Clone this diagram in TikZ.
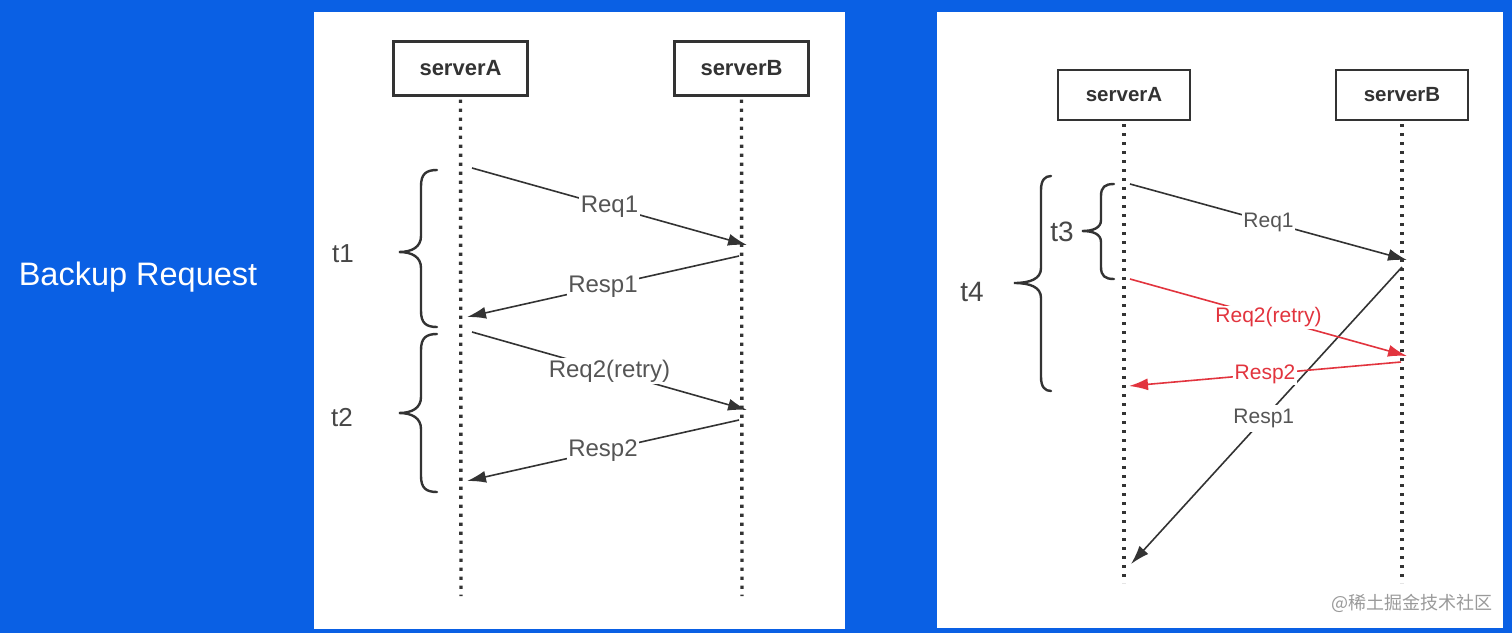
\documentclass[tikz,border=0pt]{standalone}
\usepackage{fontspec}
\setmainfont{Liberation Sans}
\newfontfamily\cjkfont{Noto Sans CJK SC}
\usetikzlibrary{arrows.meta}
\definecolor{bgblue}{HTML}{0A60E4}
\definecolor{ink}{HTML}{333333}
\definecolor{lbl}{HTML}{555555}
\definecolor{redl}{HTML}{E2343E}
\definecolor{wm}{HTML}{9A9A9A}
\begin{document}
\begin{tikzpicture}[x=1pt,y=-1pt,
  srvL/.style={draw=ink,line width=2.6pt,minimum width=134pt,minimum height=54pt,inner sep=0pt,outer sep=0pt,text=ink,font=\bfseries\fontsize{22}{26}\selectfont},
  srvR/.style={draw=ink,line width=2.4pt,minimum width=132pt,minimum height=50pt,inner sep=0pt,outer sep=0pt,text=ink,font=\bfseries\fontsize{20.5}{24}\selectfont},
  life/.style={draw=ink,line width=3.4pt,dash pattern=on 3.4pt off 5.6pt},
  msg/.style={draw=ink,line width=1.6pt,-{Latex[length=19pt,width=12pt]}},
  msgred/.style={draw=redl,line width=1.6pt,-{Latex[length=19pt,width=12pt]}},
  labL/.style={fill=white,inner sep=1.5pt,text=lbl,font=\fontsize{24}{28}\selectfont},
  labR/.style={fill=white,inner sep=1.5pt,text=lbl,font=\fontsize{21}{25}\selectfont},
  labred/.style={fill=white,inner sep=1.5pt,text=redl,font=\fontsize{21}{25}\selectfont},
  brc/.style={draw=ink,line width=2.4pt,line cap=round},
  tlab/.style={text=ink!90,font=\fontsize{26}{30}\selectfont}]
\useasboundingbox (0,0) rectangle (1512,633);
% backgrounds
\fill[bgblue] (0,0) rectangle (1512,633);
\fill[white] (314,12) rectangle (845,629);
\fill[white] (937,12) rectangle (1503,628);
\node[text=white,font=\fontsize{32.5}{38}\selectfont] (title) at (138,277) {Backup Request};

% ---------- left panel ----------
\node[srvL] (LA) at (460.5,68.5) {serverA};
\node[srvL] (LB) at (741.5,68.5) {serverB};
\coordinate (LAend) at (461,596);
\coordinate (LBend) at (742,596);
\draw[life] (LA.south) ++(0,4) coordinate (LAtop) -- (LAend);
\draw[life] (LB.south) ++(0,4) coordinate (LBtop) -- (LBend);

\coordinate (l1s) at (472,168);  \coordinate (l1e) at (747,245);
\coordinate (l2s) at (739,256);  \coordinate (l2e) at (467,317);
\coordinate (l3s) at (472,332);  \coordinate (l3e) at (747,410);
\coordinate (l4s) at (739,420);  \coordinate (l4e) at (467,481);
\draw[msg] (l1s) -- node[labL] (lReq1) {Req1} (l1e);
\draw[msg] (l2s) -- node[labL] (lResp1) {Resp1} (l2e);
\draw[msg] (l3s) -- node[labL] (lReq2) {Req2(retry)} (l3e);
\draw[msg] (l4s) -- node[labL] (lResp2) {Resp2} (l4e);

\draw[brc] (437,170) .. controls (426,170) and (421,174) .. (421,186) -- (421,236)
  .. controls (421,247) and (412,252) .. (399,252)
  .. controls (412,252) and (421,257) .. (421,268) -- (421,311)
  .. controls (421,323) and (426,327) .. (437,327);
\draw[brc] (437,334) .. controls (426,334) and (421,338) .. (421,350) -- (421,397)
  .. controls (421,408) and (412,413) .. (399,413)
  .. controls (412,413) and (421,418) .. (421,429) -- (421,476)
  .. controls (421,488) and (426,492) .. (437,492);
\node[tlab] (t1) at (343,254) {t1};
\node[tlab] (t2) at (342,418) {t2};

% ---------- right panel ----------
\node[srvR] (RA) at (1124,95) {serverA};
\node[srvR] (RB) at (1402,95) {serverB};
\coordinate (RAend) at (1124,583);
\coordinate (RBend) at (1402,583);
\draw[life] (RA.south) ++(0,4) coordinate (RAtop) -- (RAend);
\draw[life] (RB.south) ++(0,4) coordinate (RBtop) -- (RBend);

\coordinate (r1s) at (1130,184);  \coordinate (r1e) at (1407,260);
\coordinate (r2s) at (1402,267);  \coordinate (r2e) at (1131,564);
\coordinate (r3s) at (1130,279);  \coordinate (r3e) at (1407,356);
\coordinate (r4s) at (1401,362);  \coordinate (r4e) at (1129,386);
\draw[msg] (r1s) -- node[labR] (rReq1) {Req1} (r1e);
\draw[msg] (r2s) -- node[labR,pos=0.51,inner sep=4pt] (rResp1) {Resp1} (r2e);
\draw[msgred] (r3s) -- node[labred] (rReq2) {Req2(retry)} (r3e);
\draw[msgred] (r4s) -- node[labred] (rResp2) {Resp2} (r4e);

\draw[brc] (1114,184) .. controls (1105,184) and (1101,187) .. (1101,196) -- (1101,220)
  .. controls (1101,228) and (1093,231) .. (1082,231)
  .. controls (1093,231) and (1101,234) .. (1101,242) -- (1101,267)
  .. controls (1101,276) and (1105,279) .. (1114,279);
\draw[brc] (1051,176) .. controls (1045,176) and (1041,180) .. (1041,190) -- (1041,268)
  .. controls (1041,279) and (1030,283) .. (1014,283)
  .. controls (1030,283) and (1041,287) .. (1041,298) -- (1041,377)
  .. controls (1041,387) and (1045,391) .. (1051,391);
\node[tlab,font=\fontsize{28}{32}\selectfont] (t3) at (1062,232) {t3};
\node[tlab,font=\fontsize{28}{32}\selectfont] (t4) at (972,292) {t4};

\node[text=wm,font=\cjkfont\fontsize{18}{22}\selectfont] (wmark) at (1412,603) {@稀土掘金技术社区};
\end{tikzpicture}
\end{document}
